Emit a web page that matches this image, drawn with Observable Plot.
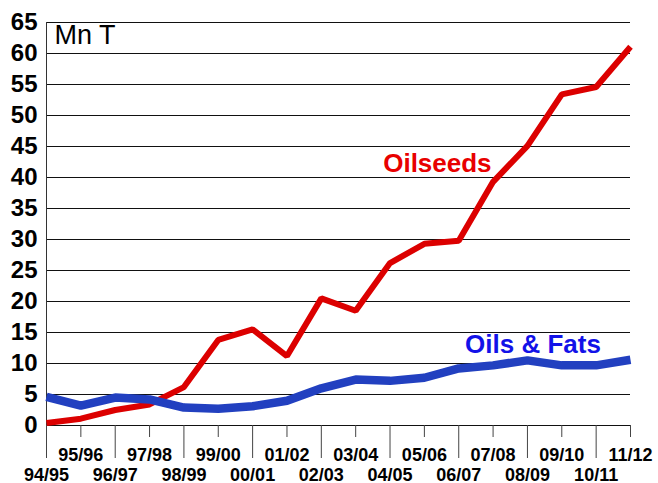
<!DOCTYPE html>
<html>
<head>
<meta charset="utf-8">
<script src="https://cdn.jsdelivr.net/npm/d3@7"></script>
<script src="https://cdn.jsdelivr.net/npm/@observablehq/plot@0.6"></script>
<style>
  html, body { margin: 0; padding: 0; background: #fff; }
  svg { display: block; }
</style>
</head>
<body>
<div id="chart"></div>
<script>
const seasons = ["94/95","95/96","96/97","97/98","98/99","99/00","00/01","01/02","02/03","03/04","04/05","05/06","06/07","07/08","08/09","09/10","10/11","11/12"];
const oilseeds = [0.4, 1.1, 2.5, 3.4, 6.2, 13.8, 15.5, 11.2, 20.5, 18.5, 26.2, 29.3, 29.8, 39.3, 45.1, 53.4, 54.6, 61.1];
const oilsFats = [4.6, 3.2, 4.5, 4.2, 2.9, 2.7, 3.1, 4.0, 6.0, 7.4, 7.2, 7.7, 9.2, 9.7, 10.5, 9.7, 9.7, 10.6];
const yTicks = [0, 5, 10, 15, 20, 25, 30, 35, 40, 45, 50, 55, 60, 65];
const unitLabel = "Mn T";
const seriesNames = ["Oilseeds", "Oils & Fats"];

const rows = seasons.flatMap((s, i) => [
  {season: s, value: oilseeds[i], series: seriesNames[0]},
  {season: s, value: oilsFats[i], series: seriesNames[1]}
]);
const evenSeasons = seasons.filter((_, i) => i % 2 === 0);
const oddSeasons = seasons.filter((_, i) => i % 2 === 1);

const font = "'Liberation Sans', Arial, Helvetica, sans-serif";
const labelFont = {fontFamily: font, fontWeight: "bold", fill: "#000"};

const chart = Plot.plot({
  width: 658,
  height: 483,
  marginLeft: 46,
  marginRight: 28,
  marginTop: 22,
  marginBottom: 58,
  style: {fontFamily: font, background: "#fff", color: "#000"},
  x: {type: "point", domain: seasons, padding: 0, round: false, axis: null},
  y: {domain: [0, 65], axis: null},
  marks: [
    Plot.gridY(yTicks, {stroke: "#111", strokeOpacity: 1, strokeWidth: 1}),
    Plot.ruleX([seasons[0]], {y1: 0, y2: 65, stroke: "#333", strokeWidth: 1}),
    Plot.axisX(evenSeasons, {tickSize: 33, tickFormat: () => "", label: null, stroke: "#444"}),
    Plot.axisX(oddSeasons, {tickSize: 12, tickFormat: () => "", label: null, stroke: "#444"}),
    Plot.text(yTicks, {y: d => d, frameAnchor: "left", dx: -9, textAnchor: "end", lineAnchor: "middle", text: d => String(d), fontSize: 24, ...labelFont}),
    Plot.text(evenSeasons, {x: d => d, frameAnchor: "bottom", dy: 55, textAnchor: "middle", lineAnchor: "bottom", text: d => d, fontSize: 18, ...labelFont}),
    Plot.text(oddSeasons, {x: d => d, frameAnchor: "bottom", dy: 35, textAnchor: "middle", lineAnchor: "bottom", text: d => d, fontSize: 18, ...labelFont}),
    Plot.line(rows.filter(d => d.series === seriesNames[0]), {x: "season", y: "value", stroke: "#dc0000", strokeWidth: 6, strokeLinejoin: "miter", strokeLinecap: "butt"}),
    Plot.line(rows.filter(d => d.series === seriesNames[1]), {x: "season", y: "value", stroke: "#2240c0", strokeWidth: 8.5, strokeLinejoin: "miter", strokeLinecap: "butt"}),
    Plot.text([seriesNames[0]], {x: () => "05/06", y: () => 40.85, dx: 13, text: d => d, fill: "#e80000", fontSize: 26, fontWeight: "bold", textAnchor: "middle", lineAnchor: "bottom"}),
    Plot.text([seriesNames[1]], {x: () => "08/09", y: () => 11.77, dx: 5.5, text: d => d, fill: "#1212e8", fontSize: 26, fontWeight: "bold", textAnchor: "middle", lineAnchor: "bottom"}),
    Plot.text([unitLabel], {x: () => seasons[0], y: () => 65, dx: 8, dy: 2, text: d => d, fill: "#000", fontSize: 27, textAnchor: "start", lineAnchor: "top"})
  ]
});
document.getElementById("chart").appendChild(chart);
</script>
</body>
</html>
